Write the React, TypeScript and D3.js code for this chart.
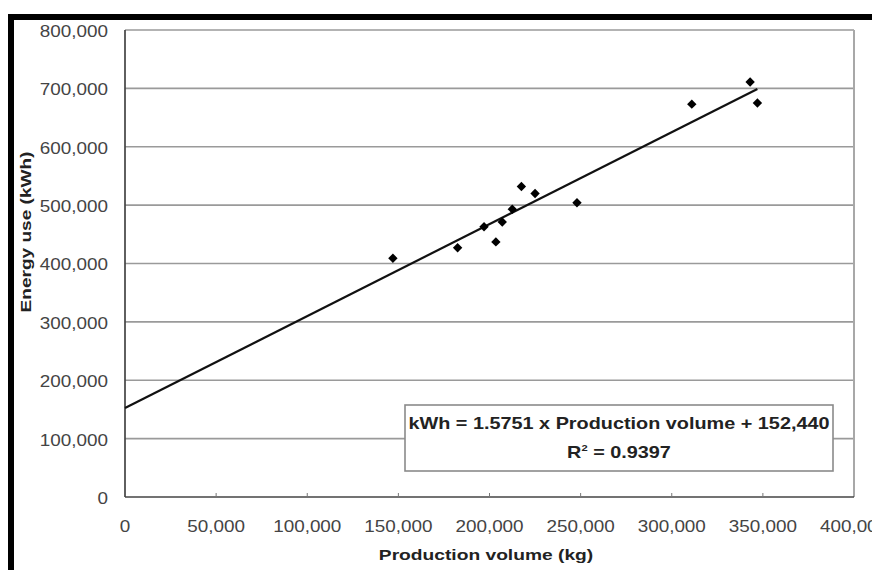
import React from "react";
import * as d3 from "d3";

const production = [147000, 182500, 197000, 203500, 207000, 212500, 217500, 225000, 248000, 311000, 343000, 347000];
const energy = [409000, 427000, 463000, 437000, 471000, 493000, 532000, 520000, 504000, 673000, 711000, 675000];
const xTicks = [0, 50000, 100000, 150000, 200000, 250000, 300000, 350000, 400000];
const yTicks = [0, 100000, 200000, 300000, 400000, 500000, 600000, 700000, 800000];
const slope = 1.5751;
const intercept = 152440;
const eqLine1 = "kWh = 1.5751 x Production volume + 152,440";
const r2Value = "0.9397";
const xTitle = "Production volume (kg)";
const yTitle = "Energy use (kWh)";

const W = 872, H = 570;
const left = 125, right = 854, top = 30, bottom = 497;
const FONT = "'Liberation Sans', Arial, Helvetica, sans-serif";
const SX = 1.18;

function SText({ x, y, rotate = 0, sx = SX, size = 16, weight = "normal", anchor = "middle", fill = "#444", children, baseline = "central" }: any) {
  return (
    <g transform={`translate(${x},${y}) rotate(${rotate}) scale(${sx},1)`}>
      <text x={0} y={0} textAnchor={anchor} dominantBaseline={baseline} fontFamily={FONT} fontSize={size} fontWeight={weight} fill={fill}>
        {children}
      </text>
    </g>
  );
}

export default function App() {
  const x = d3.scaleLinear().domain([0, 400000]).range([left, right]);
  const y = d3.scaleLinear().domain([0, 800000]).range([bottom, top]);
  const fmt = d3.format(",");
  const xMax = d3.max(production) as number;
  const trend = d3.line<number>().x((v) => x(v)).y((v) => y(slope * v + intercept));
  const diamond = d3.symbol().type(d3.symbolSquare).size(44)();

  return (
    <svg width={W} height={H} style={{ position: "absolute", left: 0, top: 0, background: "#fff" }}>
      <rect x={0} y={0} width={W} height={H} fill="#fff" />
      {/* black frame */}
      <rect x={8} y={14} width={W - 8} height={6} fill="#000" />
      <rect x={8} y={14} width={6} height={H - 14} fill="#000" />

      {/* gridlines */}
      {yTicks.filter((t) => t > 0).map((t) => (
        <line key={t} x1={left} x2={right} y1={y(t)} y2={y(t)} stroke="#9a9a9a" strokeWidth={1.6} />
      ))}
      {/* plot border right */}
      <line x1={right} x2={right} y1={top} y2={bottom} stroke="#a8a8a8" strokeWidth={2} />
      {/* axes */}
      <line x1={left} x2={left} y1={top} y2={bottom} stroke="#444" strokeWidth={1.7} />
      <line x1={left} x2={right} y1={bottom} y2={bottom} stroke="#444" strokeWidth={1.7} />
      {xTicks.slice(1, -1).map((t) => (
        <line key={t} x1={x(t)} x2={x(t)} y1={bottom} y2={bottom - 4} stroke="#777" strokeWidth={1} />
      ))}

      {/* y tick labels */}
      {yTicks.map((t) => (
        <SText key={t} x={108} y={y(t) + 1.5} anchor="end">{fmt(t)}</SText>
      ))}
      {/* x tick labels */}
      {xTicks.map((t) => (
        <SText key={t} x={x(t)} y={527}>{fmt(t)}</SText>
      ))}

      {/* axis titles */}
      <SText x={486} y={555} weight="bold" fill="#222" size={15.5} sx={1.24}>{xTitle}</SText>
      <SText x={26} y={232} rotate={-90} weight="bold" fill="#222" size={15.5} sx={1.23}>{yTitle}</SText>

      {/* trend line */}
      <path d={trend([0, xMax]) as string} fill="none" stroke="#111" strokeWidth={2.2} />

      {/* points */}
      {production.map((p, i) => (
        <path key={i} d={diamond as string} transform={`translate(${x(p)},${y(energy[i])}) rotate(45)`} fill="#000" />
      ))}

      {/* equation box */}
      <rect x={405} y={405} width={428} height={66} fill="#fff" stroke="#8a8a8a" strokeWidth={1.6} />
      <SText x={619} y={424} weight="bold" fill="#222" size={16} sx={1.24}>{eqLine1}</SText>
      <g transform={`translate(619,453) scale(1.24,1)`}>
        <text x={0} y={0} textAnchor="middle" dominantBaseline="central" fontFamily={FONT} fontSize={16} fontWeight="bold" fill="#222">
          R<tspan fontSize={9} dy={-6}>2</tspan><tspan dy={6}> = {r2Value}</tspan>
        </text>
      </g>
    </svg>
  );
}
